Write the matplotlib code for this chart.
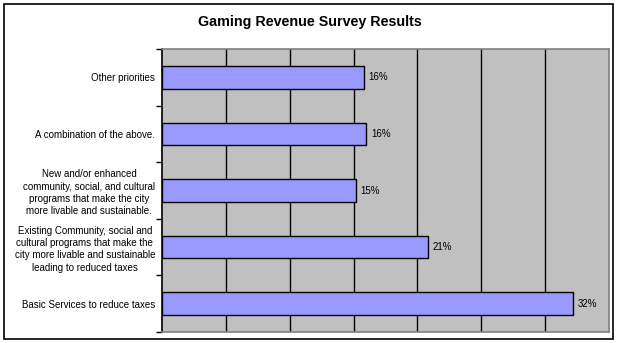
import matplotlib.pyplot as plt
from matplotlib.patches import Rectangle

plt.rcParams['font.family'] = ['Liberation Sans', 'DejaVu Sans']

categories = [
    "Basic Services to reduce taxes",
    "Existing Community, social and\ncultural programs that make the\ncity more livable and sustainable\nleading to reduced taxes",
    "New and/or enhanced\ncommunity, social, and cultural\nprograms that make the city\nmore livable and sustainable.",
    "A combination of the above.",
    "Other priorities",
]
shares = [0.322, 0.208, 0.152, 0.160, 0.158]
grid_steps = [0.05, 0.10, 0.15, 0.20, 0.25, 0.30]

fig = plt.figure(figsize=(6.19, 3.43), dpi=100)
ax = fig.add_axes([162 / 619, 11 / 343, 447 / 619, 283 / 343])
ax.set_facecolor('#C0C0C0')

ypos = list(range(len(categories)))
ax.barh(ypos, shares, height=0.4, color='#9999FF', edgecolor='black', linewidth=1, zorder=3)
for y, v in zip(ypos, shares):
    ax.text(v + 0.0035, y, f"{v:.0%}", va='center', ha='left', fontsize=7, zorder=4)

for g in grid_steps:
    ax.axvline(g, color='black', linewidth=1, zorder=1)

ax.set_xlim(0, 0.35)
ax.set_ylim(-0.5, len(categories) - 0.5)
ax.set_xticks([])

ax.set_yticks(ypos)
ax.set_yticklabels(categories, fontsize=7, multialignment='center', linespacing=1.3)
ax.set_yticks([y - 0.5 for y in range(len(categories) + 1)], minor=True)
ax.tick_params(axis='y', which='major', length=0, pad=5)
ax.tick_params(axis='y', which='minor', length=4, width=1, direction='out')

for side in ['top', 'right', 'bottom']:
    ax.spines[side].set_color('#808080')
    ax.spines[side].set_linewidth(1.2)
ax.spines['left'].set_color('black')
ax.spines['left'].set_linewidth(1.2)

fig.text(0.5, 1 - 22 / 343, "Gaming Revenue Survey Results", ha='center', va='center',
         fontsize=10.3, fontweight='bold')

# outer chart frame
fig.patches.append(Rectangle((4 / 619, 4 / 343), 609 / 619, 335 / 343, transform=fig.transFigure,
                             fill=False, edgecolor='black', linewidth=1.2))

fig.savefig('out.png', dpi=100)
